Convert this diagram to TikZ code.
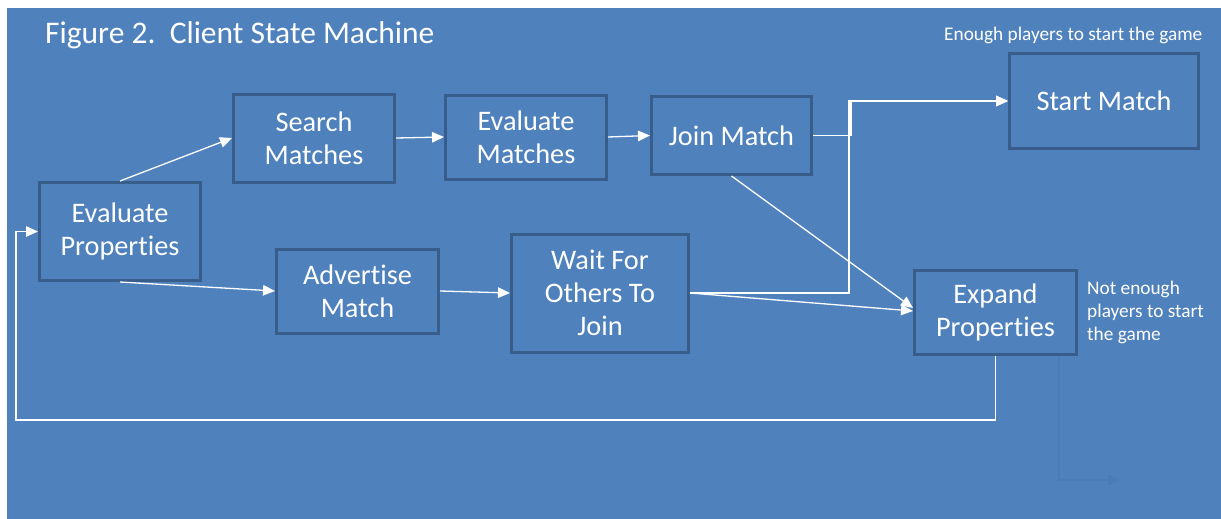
\documentclass[tikz,border=0pt]{standalone}
\usepackage{fontspec}
\setmainfont[Ligatures=NoCommon]{Carlito}
\usetikzlibrary{arrows.meta, positioning}
\definecolor{slide}{HTML}{4F81BD}
\definecolor{edge}{HTML}{385D8A}
\tikzset{
  x=1pt, y=-1pt, % work in screen units, y going down
  stage/.style={draw=edge, line width=3pt, fill=slide, text=white,
    align=center, font=\fontsize{28.3}{33}\selectfont}, % each state box
  link/.style={draw=white, line width=1.3pt,
    -{Triangle[length=12pt,width=10.5pt]}}, % white arrows between states
  note/.style={text=white, align=left, font=\fontsize{19.3}{23}\selectfont},
}

\begin{document}
\begin{tikzpicture}
    \useasboundingbox (0,0) rectangle (1221,519);
    \fill[slide] (7,8) rectangle (1221,519);

    \node[text=white, anchor=base west, inner sep=0pt, font=\fontsize{31.5}{36}\selectfont]
      (title) at (45,44) {Figure 2.\ \ Client State Machine};

    % states
    \node[stage, minimum width=161, minimum height=98] (evalprop) at (120,231.5)
      {Evaluate\\Properties};
    \node[stage, minimum width=161, minimum height=88] (search) at (314,138)
      {Search\\Matches};
    \node[stage, minimum width=161, minimum height=84] (evalmatch) at (526,137)
      {Evaluate\\Matches};
    \node[stage, minimum width=160, minimum height=78] (join) at (731.5,135.5)
      {Join Match};
    \node[stage, minimum width=189, minimum height=95] (start) at (1104,101)
      {Start Match};
    \node[stage, minimum width=162, minimum height=84] (advert) at (357.5,291)
      {Advertise\\Match};
    \node[stage, minimum width=177, minimum height=118] (wait) at (600,293)
      {Wait For\\Others To\\Join};
    \node[stage, minimum width=162, minimum height=84] (expand) at (995.5,312)
      {Expand\\Properties};

    % notes
    \node[note, anchor=base west, inner sep=0pt] (enough) at (944,41)
      {Enough players to start the game};
    \node[note, anchor=north west, inner sep=0pt] (notenough) at (1087,281)
      {Not enough\\players to start\\the game};

    \coordinate (back) at (16,420);
    \coordinate (spare) at (1120,480);

    % transitions
    \draw[link] (evalprop.north) -- (search.west);
    \draw[link] (search.east) -- (evalmatch.west);
    \draw[link] (evalmatch.east) -- (join.west);
    \draw[link] (join.east) -- ++(38,0) |- (start.west);
    \draw[link] (wait.east) -- ++(159,0) |- (start.west);
    \draw[link] (join.south) -- ([yshift=4pt]expand.west);
    \draw[link] (wait.east) -- ([yshift=1pt]expand.west);
    \draw[link] (evalprop.south) -- (advert.west);
    \draw[link] (advert.east) -- (wait.west);
    \draw[link] (expand.south) |- (back) |- (evalprop.west);
    \draw[link, draw=slide!96!black] ([xshift=-19pt]expand.south east) |- (spare);
\end{tikzpicture}
\end{document}
